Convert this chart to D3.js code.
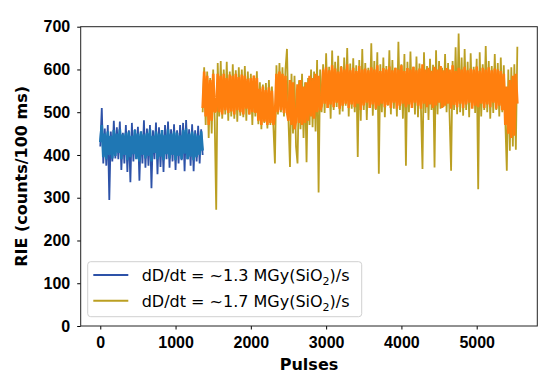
<!DOCTYPE html>
<meta charset="utf-8">
<style>

body {
  margin: 0;
  background: #fff;
}

svg {
  font-family: "DejaVu Sans", sans-serif;
}

.axis text {
  font-size: 16px;
  font-weight: bold;
  fill: #000;
}

.axis line {
  stroke: #000;
}

.legend text {
  font-size: 16px;
  fill: #000;
}

</style>
<svg width="550" height="381"></svg>
<script src="https://d3js.org/d3.v7.min.js"></script>
<script>

// pulse sampling of the two runs
var lowStart = 0,
    highStart = 1360,
    pulseStep = 20;

var xTicks = [0, 1000, 2000, 3000, 4000, 5000],
    yTicks = [0, 100, 200, 300, 400, 500, 600, 700];

var seriesNames = ["~1.3", "~1.7"];

// ~1.3 MGy/s run, raw counts and second channel
var lowRaw = [
  420,510,380,462,375,470,295,455,385,480,
  392,465,390,478,365,452,380,470,360,458,
  336,475,385,460,395,466,340,455,380,481,
  370,462,375,470,322,458,390,476,355,465,
  372,455,360,470,390,478,370,460,385,472,
  365,458,380,470,388,475,362,482,390,460,
  375,472,362,458,385,468,380,460,400];

var lowMid = [
  430,470,395,450,390,455,400,445,392,458,
  398,450,405,460,390,448,400,452,388,455,
  395,445,402,458,390,450,385,455,400,448,
  392,452,398,460,385,445,405,455,390,450,
  396,458,388,447,402,460,392,450,400,455,
  388,452,398,446,390,458,403,462,390,450,
  396,455,388,450,395,446,400,455,410];

// ~1.7 MGy/s run
var highRaw = [
  500,605,470,595,440,580,450,600,480,272,
  615,490,620,485,600,495,618,480,595,490,
  612,485,598,478,605,492,600,488,608,480,
  595,495,590,470,585,490,596,472,570,460,
  565,475,568,462,575,470,560,465,380,610,
  495,615,500,605,490,600,648,480,372,590,
  450,585,420,380,575,460,590,440,570,383,
  580,470,600,465,595,455,622,312,600,500,
  612,498,638,510,606,485,644,505,618,512,
  632,495,608,502,628,515,650,490,614,508,
  626,500,610,395,622,480,648,505,615,482,
  604,510,661,492,620,505,640,356,612,500,
  628,488,608,515,645,495,622,508,604,490,
  665,505,612,485,636,375,618,500,642,512,
  606,495,630,488,614,505,367,640,498,608,
  482,625,505,611,371,645,495,620,508,604,
  512,636,500,615,490,363,620,505,652,495,
  684,500,628,492,648,505,618,488,638,510,
  606,498,625,320,640,490,612,505,655,500,
  620,485,608,498,636,505,615,490,628,500,
  610,480,363,600,410,605,420,612,412,653];

var highMid = [
  510,595,490,585,470,575,480,590,500,
  505,590,500,585,495,590,505,580,498,588,
  502,585,495,590,505,582,500,588,495,585,
  508,578,495,580,500,586,498,580,
  480,555,470,560,478,552,470,558,475,550,470,
  490,590,500,595,505,590,498,585,500,480,
  575,470,570,460,480,565,475,575,470,560,
  475,570,480,585,490,580,485,590,500,585,505,
  515,600,520,605,510,598,518,610,512,602,
  522,595,508,606,515,600,520,612,510,598,
  518,604,512,596,520,608,505,600,516,602,
  522,598,510,605,518,600,508,610,515,596,
  520,603,512,600,517,607,510,598,522,604,
  508,600,515,610,520,596,512,603,518,600,
  510,606,522,598,515,602,508,612,520,600,
  512,604,518,597,510,606,516,600,522,608,
  510,598,515,603,520,600,508,610,517,596,
  512,604,520,600,510,606,518,598,522,602,
  508,600,515,607,512,597,520,604,510,600,
  518,605,512,598,522,602,508,600,515,596,
  505,590,
  470,560,450,575,440,585,445,590,520];

var colors = {
  lowRaw: "#2d52a8", lowMid: "#1f77b4",
  highRaw: "#bb9f22", highMid: "#ff7f0e"
};

var svg = d3.select("svg");

var plotL = 80.7, plotR = 537.3, plotT = 26.7, plotB = 326;

var x = d3.scaleLinear().domain([-260, 5805]).range([plotL, plotR]);
var y = d3.scaleLinear().domain([0, 700]).range([plotB, plotT]);

function pulses(start, n) {
  return d3.range(n).map(function(i) { return start + i * pulseStep; });
}

var line = d3.line()
    .x(function(d) { return x(d[0]); })
    .y(function(d) { return y(d[1]); });

function draw(start, vals, color, w) {
  var px = pulses(start, vals.length);
  svg.append("path")
      .datum(vals.map(function(v, i) { return [px[i], v]; }))
      .attr("fill", "none")
      .attr("stroke", color)
      .attr("stroke-width", w)
      .attr("stroke-linejoin", "bevel")
      .attr("d", line);
}

draw(lowStart, lowRaw, colors.lowRaw, 1.8);
draw(lowStart, lowMid, colors.lowMid, 2.6);
draw(highStart, highRaw, colors.highRaw, 1.8);
draw(highStart, highMid, colors.highMid, 2.6);

// axes
svg.append("g")
    .attr("class", "axis")
    .attr("transform", "translate(0," + plotB + ")")
    .call(d3.axisBottom(x).tickValues(xTicks).tickFormat(d3.format("d"))
      .tickSize(3.5).tickPadding(7))
    .call(function(g) { g.select(".domain").remove(); });

svg.append("g")
    .attr("class", "axis")
    .attr("transform", "translate(" + plotL + ",0)")
    .call(d3.axisLeft(y).tickValues(yTicks).tickFormat(d3.format("d"))
      .tickSize(3.5).tickPadding(7))
    .call(function(g) { g.select(".domain").remove(); });

svg.append("rect")
    .attr("x", plotL)
    .attr("y", plotT)
    .attr("width", plotR - plotL)
    .attr("height", plotB - plotT)
    .attr("fill", "none")
    .attr("stroke", "#222")
    .attr("stroke-width", 1);

svg.append("text")
    .attr("x", (plotL + plotR) / 2)
    .attr("y", 370)
    .attr("text-anchor", "middle")
    .style("font-size", "16px")
    .style("font-weight", "bold")
    .text("Pulses");

svg.append("text")
    .attr("transform", "translate(27," + ((plotT + plotB) / 2) + ") rotate(-90)")
    .attr("text-anchor", "middle")
    .style("font-size", "16px")
    .style("font-weight", "bold")
    .text("RIE (counts/100 ms)");

// legend
var legend = svg.append("g").attr("class", "legend");

legend.append("rect")
    .attr("x", 87.7)
    .attr("y", 261.7)
    .attr("width", 274)
    .attr("height", 55)
    .attr("rx", 3)
    .attr("fill", "#fff")
    .attr("fill-opacity", 0.8)
    .attr("stroke", "#d0d0d0");

var legendColors = [colors.lowRaw, colors.highRaw];

seriesNames.forEach(function(name, i) {
  var ly = 275 + i * 25.7;
  legend.append("line")
      .attr("x1", 93.3).attr("x2", 128.3)
      .attr("y1", ly).attr("y2", ly)
      .attr("stroke", legendColors[i])
      .attr("stroke-width", 2);
  var t = legend.append("text")
      .attr("x", 141.7)
      .attr("y", ly + 5.8);
  t.append("tspan").text("dD/dt = " + name + " MGy(SiO");
  t.append("tspan").attr("dy", 4).style("font-size", "11px").text("2");
  t.append("tspan").attr("dy", -4).text(")/s");
});

</script>
